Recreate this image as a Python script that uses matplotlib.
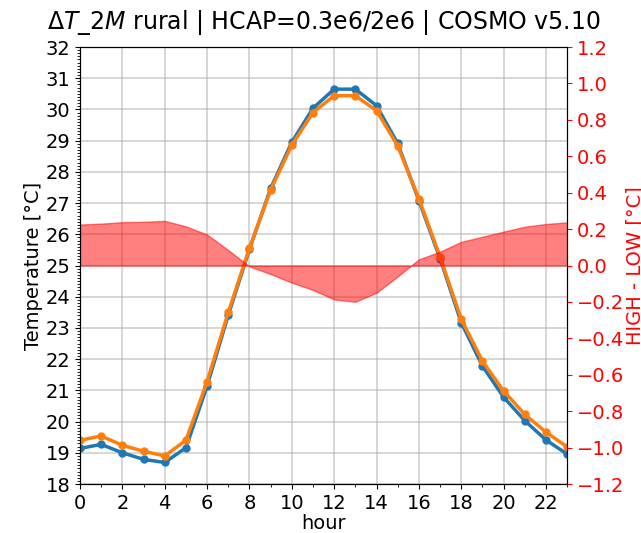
import numpy as np
import matplotlib
matplotlib.use('Agg')
import matplotlib.pyplot as plt
from matplotlib.ticker import MultipleLocator

plt.rcParams['font.size'] = 14

hours = np.arange(24)

# 2 m temperature, low and high heat capacity runs
t2m_low = [19.14, 19.27, 19.00, 18.79, 18.69, 19.16, 21.14, 23.41, 25.52, 27.47,
           28.95, 30.04, 30.65, 30.65, 30.12, 28.91, 27.08, 25.22, 23.17, 21.78,
           20.78, 20.03, 19.41, 18.96]
t2m_high = [19.40, 19.54, 19.24, 19.05, 18.90, 19.40, 21.28, 23.50, 25.56, 27.42,
            28.86, 29.90, 30.44, 30.44, 29.96, 28.83, 27.14, 25.28, 23.28, 21.94,
            20.98, 20.23, 19.66, 19.19]
# HIGH - LOW difference
t2m_diff = [0.225, 0.230, 0.238, 0.240, 0.245, 0.215, 0.170, 0.085, -0.005, -0.047,
            -0.094, -0.134, -0.186, -0.199, -0.149, -0.060, 0.034, 0.076, 0.130, 0.158,
            0.186, 0.213, 0.228, 0.237]

fig = plt.figure(figsize=(6.41, 5.33), dpi=100)
ax = fig.add_axes([0.1248, 0.0919, 0.76, 0.8199])

ax.plot(hours, t2m_low, '-o', color='C0', lw=2.5, ms=5)
ax.plot(hours, t2m_high, '-o', color='C1', lw=2.5, ms=5)
ax.set_xlim(0, 23)
ax.set_ylim(18, 32)
ax.xaxis.set_major_locator(MultipleLocator(2))
ax.xaxis.set_minor_locator(MultipleLocator(1))
ax.yaxis.set_major_locator(MultipleLocator(1))
ax.yaxis.set_minor_locator(MultipleLocator(0.1))
ax.grid(True, color='#b0b0b0', alpha=0.6, lw=1.2)
ax.set_xlabel('hour', labelpad=1)
ax.set_ylabel('Temperature [°C]', labelpad=2)
ax.set_title(r'$\Delta T\_2M$ rural | HCAP=0.3e6/2e6 | COSMO v5.10', fontsize=17, pad=13)

ax2 = ax.twinx()
ax2.fill_between(hours, 0, t2m_diff, color='red', alpha=0.5)
ax2.set_ylim(-1.2, 1.2)
ax2.yaxis.set_major_locator(MultipleLocator(0.2))
ax2.grid(True, axis='x', color='#b0b0b0', alpha=0.6, lw=1.2)
ax2.tick_params(axis='y', colors='red')
ax2.set_ylabel('HIGH - LOW [°C]', color='red', labelpad=1)

fig.savefig('out.png', dpi=100)
